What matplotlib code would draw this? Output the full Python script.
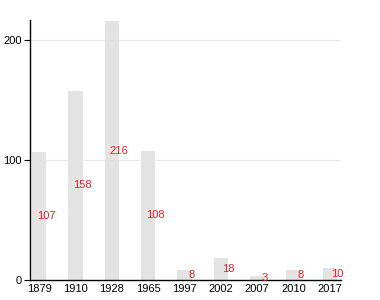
import matplotlib.pyplot as plt

# population by census year
years = ['1879', '1910', '1928', '1965', '1997', '2002', '2007', '2010', '2017']
population = [107, 158, 216, 108, 8, 18, 3, 8, 10]

plt.rcParams['font.family'] = ['Liberation Sans', 'DejaVu Sans']


def plot_chart(years, population):
    fig = plt.figure(figsize=(3.8, 3.0), dpi=100)
    ax = fig.add_axes([0.079, 0.067, 0.818, 0.866])

    x = list(range(len(years)))
    ax.bar(x, population, width=0.4, color='#e3e3e3', zorder=2)

    # value labels in red, at half height, just right of each bar centre
    for xi, v in zip(x, population):
        ax.text(xi + 0.2, v / 2, str(v), color='#e8202a', fontsize=8,
                ha='center', va='center', zorder=3)

    ax.set_xlim(-0.25, 8.3)
    ax.set_ylim(0, 217)
    ax.set_xticks(x)
    ax.set_xticklabels(years)
    ax.set_yticks([0, 100, 200])
    ax.tick_params(axis='x', length=0, labelsize=8, pad=3)
    ax.tick_params(axis='y', length=4, labelsize=8, pad=2)
    ax.yaxis.grid(True, color='#e8e8e8', linewidth=0.8, zorder=0)
    ax.set_axisbelow(True)

    for side in ['top', 'right']:
        ax.spines[side].set_visible(False)
    ax.spines['left'].set_linewidth(1)
    ax.spines['bottom'].set_linewidth(1)

    fig.savefig('out.png', dpi=100)


if __name__ == '__main__':
    plot_chart(years, population)
